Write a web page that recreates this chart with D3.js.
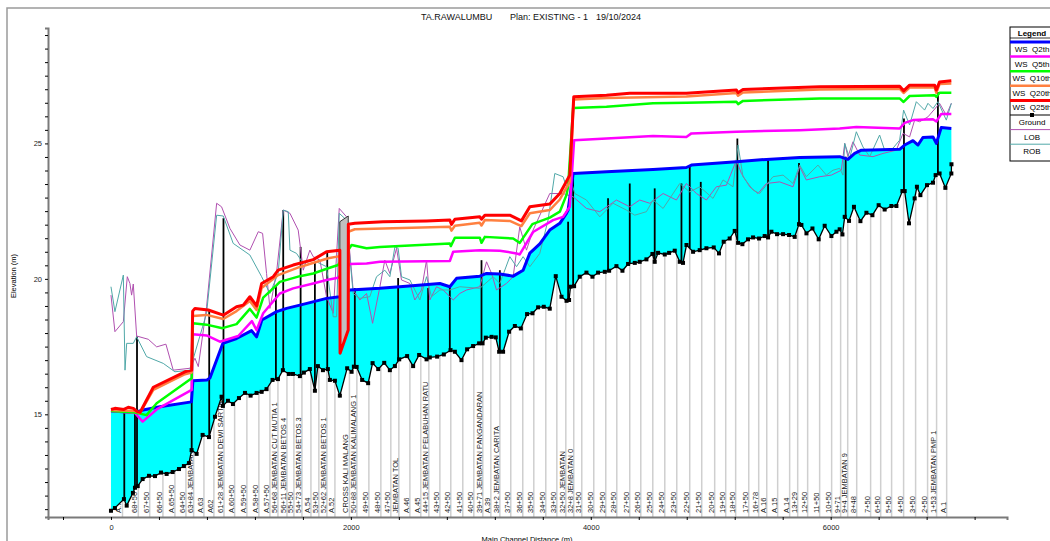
<!DOCTYPE html>
<html>
<head>
<meta charset="utf-8">
<script src="https://cdn.jsdelivr.net/npm/d3@7"></script>
<style>
  body { margin: 0; background: #fff; }
  svg { display: block; font-family: "Liberation Sans", Arial, sans-serif; }
</style>
</head>
<body>
<div id="chart"></div>
<script>
// ---- data (distance m, elevation m) ----
const stationDist = [96, 228, 323, 433, 533, 625, 689, 775, 858, 942, 1031, 1133, 1233, 1325, 1392, 1467, 1525, 1592, 1667, 1733, 1800, 1867, 1988, 2050, 2150, 2250, 2333, 2400, 2492, 2583, 2650, 2742, 2833, 2933, 3025, 3100, 3167, 3242, 3333, 3433, 3525, 3625, 3717, 3792, 3858, 3925, 4025, 4125, 4217, 4325, 4417, 4517, 4617, 4717, 4825, 4925, 5033, 5125, 5208, 5317, 5400, 5467, 5558, 5658, 5725, 5808, 5908, 6008, 6083, 6142, 6217, 6333, 6417, 6508, 6608, 6708, 6808, 6883, 6967];
const stationLabels = ["A.70", "68+50", "67+50", "66+50", "A.65+50", "64+50", "63+84 JEMBATAN", "A.63", "A62", "61+28 JEMBATAN DEWI SARTIKA", "A.60+50", "A.59+50", "A.58+50", "A.57+50", "56+68 JEMBATAN CUT MUTIA 1", "56+11 JEMBATAN BETOS 4", "55+50", "54+73 JEMBATAN BETOS 3", "A.54", "53+50", "52+62 JEMBATAN BETOS 1", "A.52", "CROSS KALI MALANG", "50+88 JEMBATAN KALIMALANG 1", "49+50", "48+50", "47+50", "JEMBATAN TOL", "A.46", "A.45", "44+15 JEMBATAN PELABUHAN RATU", "43+50", "42+50", "41+50", "40+50", "39+71 JEMBATAN PANGANDARAN", "A.39", "38+2 JEMBATAN CARITA", "37+50", "36+50", "35+50", "34+50", "33+50", "32+50 JEMBATAN", "32+8 JEMBATAN 0", "31+50", "30+50", "29+50", "28+50", "27+50", "26+50", "25+50", "24+50", "23+50", "22+50", "21+50", "20+50", "19+50", "18+50", "17+50", "16+78", "A.16", "A.15", "A.14", "13+29", "12+50", "11+50", "10+50", "9+71", "9+4 JEMBATAN 9", "8+48", "7+50", "6+50", "5+50", "4+50", "3+50", "2+50", "1+53 JEMBATAN PMP 1", "A.1"];

const ground = [[0, 11.44], [33, 11.54], [108, 11.87], [131, 11.63], [183, 12.10], [200, 12.29], [223, 12.35], [264, 12.61], [317, 12.73], [367, 12.72], [417, 12.85], [464, 12.80], [514, 12.87], [567, 12.98], [608, 13.09], [650, 13.20], [672, 13.68], [714, 13.54], [764, 14.24], [817, 14.16], [867, 14.91], [922, 15.65], [933, 15.31], [975, 15.50], [1017, 15.38], [1067, 15.60], [1117, 15.79], [1164, 15.69], [1214, 15.79], [1256, 15.83], [1297, 15.93], [1347, 16.27], [1392, 16.30], [1433, 16.63], [1483, 16.49], [1517, 16.49], [1575, 16.41], [1608, 16.54], [1658, 16.67], [1700, 15.87], [1725, 16.78], [1767, 16.63], [1808, 16.67], [1825, 16.27], [1867, 16.24], [1908, 15.69], [1969, 16.70], [2006, 16.57], [2025, 16.76], [2048, 16.75], [2094, 16.27], [2144, 16.15], [2181, 16.89], [2228, 16.67], [2278, 16.90], [2325, 16.63], [2367, 16.78], [2403, 17.03], [2469, 17.15], [2519, 16.78], [2569, 17.19], [2631, 17.03], [2658, 17.10], [2719, 17.13], [2775, 17.21], [2831, 17.37], [2867, 17.31], [2922, 17.00], [2969, 17.40], [3019, 17.52], [3069, 17.62], [3098, 17.62], [3125, 17.83], [3173, 17.86], [3208, 17.84], [3236, 17.31], [3269, 17.31], [3319, 18.05], [3367, 18.26], [3417, 18.17], [3469, 18.70], [3514, 18.73], [3561, 18.95], [3608, 18.97], [3658, 18.90], [3708, 20.10], [3756, 19.34], [3798, 19.19], [3819, 19.22], [3831, 19.71], [3861, 19.73], [3908, 20.08], [3964, 20.23], [4014, 20.08], [4061, 20.23], [4117, 20.26], [4153, 20.30], [4214, 20.47], [4264, 20.30], [4311, 20.55], [4367, 20.59], [4408, 20.63], [4464, 20.72], [4514, 20.92], [4533, 20.63], [4561, 20.96], [4617, 20.90], [4653, 20.96], [4700, 21.04], [4742, 20.63], [4769, 20.59], [4798, 21.25], [4853, 21.00], [4908, 21.06], [4964, 21.13], [5025, 21.16], [5069, 20.94], [5108, 21.37], [5158, 21.49], [5200, 21.77], [5228, 21.33], [5264, 21.28], [5311, 21.46], [5353, 21.53], [5403, 21.49], [5450, 21.58], [5478, 21.53], [5506, 21.74], [5553, 21.65], [5603, 21.65], [5653, 21.62], [5700, 21.55], [5736, 22.02], [5756, 21.99], [5798, 21.68], [5848, 21.86], [5900, 21.46], [5950, 21.96], [6006, 21.58], [6048, 21.74], [6075, 21.83], [6098, 21.64], [6117, 22.29], [6153, 22.14], [6194, 22.66], [6248, 22.13], [6298, 22.44], [6348, 22.35], [6400, 22.72], [6450, 22.56], [6506, 22.69], [6548, 22.69], [6598, 23.24], [6617, 23.24], [6653, 22.05], [6700, 22.97], [6719, 23.40], [6748, 23.09], [6803, 23.46], [6853, 23.55], [6875, 23.83], [6908, 23.89], [6956, 23.36], [7006, 23.89], [7007, 24.23]];

const wsQ2 = [[0, 15.12], [200, 15.07], [267, 15.16], [408, 15.28], [671, 15.46], [683, 16.24], [800, 16.27], [825, 16.34], [933, 17.62], [1047, 17.80], [1172, 18.09], [1214, 17.86], [1258, 18.48], [1381, 18.79], [1464, 18.91], [1575, 19.03], [1683, 19.15], [1797, 19.28], [1908, 19.34], [1992, 19.59], [2242, 19.65], [2408, 19.71], [2742, 19.83], [2825, 19.71], [2881, 20.02], [3075, 20.10], [3131, 20.20], [3242, 20.18], [3353, 20.10], [3436, 20.32], [3492, 20.95], [3575, 21.29], [3658, 21.80], [3742, 22.05], [3797, 22.42], [3811, 22.54], [3853, 23.89], [4131, 23.95], [4519, 24.04], [4797, 24.11], [4839, 24.20], [5214, 24.32], [5464, 24.41], [5742, 24.48], [6075, 24.51], [6144, 24.41], [6200, 24.63], [6256, 24.75], [6575, 24.78], [6617, 24.94], [6686, 25.10], [6728, 24.94], [6769, 25.22], [6853, 25.24], [6881, 25.00], [6922, 25.59], [7006, 25.55]];

const wsQ5 = [[0, 15.12], [200, 15.05], [264, 14.73], [381, 15.18], [673, 15.90], [683, 17.96], [797, 17.91], [908, 17.68], [1061, 17.89], [1175, 18.44], [1214, 18.11], [1269, 18.73], [1408, 19.46], [1519, 19.65], [1686, 19.83], [1797, 19.96], [1894, 20.04], [1992, 20.55], [2131, 20.57], [2242, 20.63], [2825, 20.66], [2853, 21.00], [3075, 21.06], [3242, 21.04], [3381, 20.94], [3408, 20.90], [3519, 21.73], [3686, 22.17], [3769, 22.29], [3825, 22.66], [3861, 25.12], [4131, 25.18], [4519, 25.27], [4797, 25.24], [4839, 25.37], [5214, 25.43], [5742, 25.49], [6075, 25.55], [6214, 25.61], [6575, 25.55], [6617, 25.76], [6686, 25.86], [6853, 25.89], [6881, 25.81], [6922, 26.09], [7006, 26.09]];

const wsQ10 = [[0, 15.12], [200, 15.07], [297, 14.97], [381, 15.41], [673, 16.33], [683, 18.36], [797, 18.31], [929, 18.18], [1047, 18.33], [1158, 18.89], [1214, 18.57], [1269, 19.31], [1381, 19.77], [1408, 19.89], [1575, 20.10], [1686, 20.20], [1811, 20.39], [1894, 20.51], [2006, 21.25], [2131, 21.13], [2242, 21.18], [2825, 21.31], [2833, 21.21], [2867, 21.52], [3075, 21.52], [3089, 21.33], [3117, 21.55], [3353, 21.49], [3408, 21.33], [3513, 22.02], [3658, 22.26], [3742, 22.48], [3797, 23.09], [3811, 23.40], [3853, 26.31], [4131, 26.35], [4519, 26.48], [4797, 26.50], [5214, 26.54], [5228, 26.45], [5269, 26.57], [5908, 26.66], [6575, 26.66], [6608, 26.53], [6658, 26.75], [6867, 26.78], [6881, 26.72], [6908, 26.87], [7006, 26.87]];

const wsQ20 = [[0, 15.16], [200, 15.12], [242, 15.05], [353, 15.90], [617, 16.48], [673, 16.54], [681, 18.63], [797, 18.67], [936, 18.52], [1047, 18.81], [1158, 19.18], [1214, 18.85], [1256, 19.66], [1394, 20.14], [1575, 20.44], [1811, 20.76], [1908, 20.84], [1917, 17.74], [1978, 18.48], [1979, 21.74], [2033, 21.83], [2825, 21.92], [2839, 21.78], [2867, 21.96], [3075, 22.07], [3089, 21.97], [3117, 22.17], [3325, 22.14], [3422, 21.95], [3492, 22.42], [3658, 22.54], [3742, 22.93], [3825, 23.58], [3858, 26.62], [4131, 26.68], [4797, 26.73], [5214, 26.86], [5228, 26.76], [5269, 26.88], [5908, 26.99], [6575, 27.02], [6608, 26.86], [6658, 27.06], [6867, 27.06], [6881, 26.87], [6908, 27.19], [7006, 27.21]];

const wsQ25 = [[0, 15.18], [33, 15.22], [108, 15.18], [144, 15.26], [186, 15.22], [219, 15.10], [242, 15.07], [353, 16.00], [617, 16.57], [673, 16.63], [681, 18.81], [700, 18.91], [811, 18.85], [936, 18.66], [1047, 18.97], [1103, 19.03], [1158, 19.34], [1214, 19.00], [1256, 19.83], [1353, 20.08], [1394, 20.32], [1519, 20.51], [1686, 20.71], [1797, 21.00], [1908, 21.06], [1910, 17.25], [1978, 18.11], [1979, 22.02], [2033, 22.05], [2269, 22.11], [2631, 22.14], [2825, 22.17], [2839, 22.01], [2867, 22.20], [3075, 22.29], [3089, 22.20], [3117, 22.35], [3325, 22.35], [3422, 22.14], [3492, 22.66], [3658, 22.76], [3742, 23.15], [3825, 23.83], [3858, 26.72], [4131, 26.78], [4325, 26.85], [4797, 26.85], [5214, 26.97], [5228, 26.87], [5269, 26.99], [5908, 27.09], [6575, 27.11], [6608, 26.94], [6658, 27.15], [6867, 27.15], [6881, 26.97], [6908, 27.27], [7006, 27.31]];

const lob = [[0, 19.40], [33, 18.05], [103, 18.42], [136, 20.08], [158, 19.83], [172, 19.40], [186, 19.81], [214, 17.89], [311, 17.77], [381, 17.49], [458, 17.59], [519, 16.63], [658, 16.70], [700, 17.07], [728, 16.76], [797, 18.97], [881, 22.79], [922, 22.66], [992, 21.86], [1075, 21.25], [1158, 21.06], [1228, 21.74], [1264, 21.68], [1297, 20.20], [1325, 18.91], [1381, 20.26], [1436, 22.54], [1492, 22.42], [1561, 21.80], [1603, 20.32], [1658, 21.06], [1686, 20.82], [1742, 20.69], [1797, 19.34], [1853, 18.73], [1903, 22.60], [1964, 22.29], [2019, 19.59], [2075, 19.22], [2131, 19.46], [2181, 18.36], [2242, 19.71], [2283, 20.69], [2325, 20.20], [2381, 21.13], [2422, 19.96], [2492, 19.83], [2533, 19.22], [2589, 19.59], [2631, 20.69], [2658, 19.22], [2714, 19.71], [2769, 19.59], [2853, 19.22], [2908, 19.46], [2964, 19.59], [3075, 19.71], [3131, 20.63], [3173, 20.20], [3214, 19.59], [3297, 19.83], [3353, 20.08], [3408, 21.92], [3464, 21.06], [3519, 21.80], [3658, 23.15], [3769, 23.15], [3853, 23.03], [3964, 22.60], [4075, 22.48], [4214, 22.91], [4325, 22.66], [4408, 22.91], [4492, 22.79], [4603, 23.15], [4714, 22.91], [4797, 23.52], [4881, 23.15], [4964, 22.91], [5047, 23.40], [5131, 23.46], [5214, 24.38], [5256, 23.89], [5325, 23.40], [5394, 23.15], [5464, 23.52], [5575, 23.58], [5686, 23.40], [5742, 24.14], [5797, 23.65], [5908, 23.77], [6006, 23.83], [6089, 24.01], [6117, 25.00], [6144, 24.51], [6186, 25.06], [6242, 24.57], [6353, 24.51], [6436, 24.63], [6547, 24.75], [6603, 25.37], [6658, 25.24], [6700, 25.86], [6742, 25.80], [6811, 25.98], [6908, 26.48], [6964, 26.04], [7006, 26.48]];

const rob = [[0, 19.71], [33, 18.79], [103, 20.14], [117, 16.63], [131, 17.62], [186, 17.62], [214, 17.86], [297, 17.13], [436, 16.88], [533, 16.57], [658, 16.63], [797, 18.73], [881, 22.35], [936, 22.32], [1019, 21.31], [1158, 20.88], [1256, 20.08], [1325, 19.46], [1394, 20.20], [1436, 22.54], [1478, 22.48], [1492, 21.06], [1547, 20.94], [1603, 20.57], [1686, 20.69], [1797, 20.45], [1853, 18.60], [1881, 18.60], [1903, 22.42], [1964, 22.17], [2019, 19.46], [2075, 19.28], [2158, 19.34], [2214, 20.08], [2283, 20.32], [2325, 20.08], [2367, 21.18], [2394, 21.13], [2422, 20.08], [2492, 19.96], [2575, 19.22], [2631, 20.08], [2672, 19.34], [2742, 19.59], [2825, 19.59], [2908, 19.71], [3075, 19.65], [3186, 20.08], [3242, 19.83], [3325, 20.82], [3381, 20.45], [3436, 20.82], [3492, 20.45], [3575, 20.94], [3644, 22.17], [3700, 23.89], [3769, 23.77], [3797, 23.40], [3825, 23.77], [3867, 23.15], [3964, 22.91], [4075, 22.29], [4186, 22.79], [4297, 22.54], [4367, 22.35], [4464, 22.48], [4519, 22.91], [4603, 22.60], [4742, 23.52], [4825, 23.21], [4908, 23.40], [5019, 22.97], [5103, 23.65], [5186, 23.40], [5228, 24.94], [5269, 23.77], [5353, 23.28], [5408, 23.15], [5519, 23.77], [5603, 23.83], [5686, 23.52], [5742, 24.20], [5797, 23.77], [5894, 24.20], [5964, 23.83], [6019, 24.01], [6075, 24.08], [6103, 23.83], [6117, 25.00], [6158, 24.45], [6214, 25.43], [6269, 24.87], [6325, 24.51], [6408, 25.31], [6450, 24.75], [6519, 24.82], [6575, 25.12], [6608, 26.23], [6658, 25.68], [6714, 26.54], [6783, 26.23], [6811, 26.48], [6853, 26.29], [6894, 26.54], [6964, 25.86], [7006, 26.48]];

// bridge decks drawn as black verticals: [distance, top elevation]
const bridgeTops = [[111, 15.12], [200, 15.12], [217, 17.87], [673, 16.64], [819, 18.81], [938, 22.24], [1375, 19.77], [1436, 22.54], [1581, 21.18], [1700, 20.62], [1803, 20.99], [2033, 19.66], [2394, 20.03], [2644, 19.66], [2825, 19.70], [3089, 20.69], [3242, 20.32], [3811, 22.11], [3853, 23.90], [4144, 22.98], [4325, 23.52], [4533, 23.34], [4756, 23.52], [4825, 24.20], [4917, 23.58], [5222, 25.18], [5478, 24.38], [5736, 24.28], [6125, 24.51], [6611, 25.92], [6894, 26.90]];

// inline structure at CROSS KALI MALANG
const weir = [[1908, 22.11], [1978, 22.32], [1978, 18.11], [1908, 17.25]];

const xTickValues = d3.range(-400, 7401, 400);
const xTickLabels = [0, 2000, 4000, 6000];
const yTickValues = d3.range(11.5, 29.01, 0.5);
const yTickLabels = [15, 20, 25];

const legendItems = [
  { name: "WS  Q2th", color: "#0000ff", w: 3 },
  { name: "WS  Q5th", color: "#ff00ff", w: 2.5 },
  { name: "WS  Q10th", color: "#00ff00", w: 2.5 },
  { name: "WS  Q20th", color: "#ff8040", w: 2.5 },
  { name: "WS  Q25th", color: "#ff0000", w: 3 },
  { name: "Ground", color: "#000000", w: 1.2, marker: true },
  { name: "LOB", color: "#b050b0", w: 1 },
  { name: "ROB", color: "#50a8a8", w: 1 }
];

// ---- chart ----
const width = 1050, height = 541;

const x = d3.scaleLinear().domain([-525, 7470]).range([48, 1007]);
const y = d3.scaleLinear().domain([11.21, 29.26]).range([517, 28]);

const svg = d3.select("#chart").append("svg")
    .attr("width", width)
    .attr("height", height);

// outer frame
svg.append("rect")
    .attr("x", 7).attr("y", 8)
    .attr("width", 1100).attr("height", 600)
    .attr("fill", "none")
    .attr("stroke", "#9a9a9a")
    .attr("stroke-width", 1.5);

// title
const title = svg.append("g").style("font-size", "9px").attr("fill", "#111");
title.append("text").attr("x", 421).attr("y", 20).text("TA.RAWALUMBU");
title.append("text").attr("x", 510).attr("y", 20).text("Plan: EXISTING - 1");
title.append("text").attr("x", 596).attr("y", 20).text("19/10/2024");

const groundAt = d => {
  const i = d3.bisector(p => p[0]).left(ground, d);
  if (i <= 0) return ground[0][1];
  if (i >= ground.length) return ground[ground.length - 1][1];
  const a = ground[i - 1], b = ground[i];
  return a[1] + (b[1] - a[1]) * (d - a[0]) / (b[0] - a[0]);
};

// station lines from axis up to ground
svg.append("g")
  .selectAll("line")
  .data(stationDist)
  .join("line")
    .attr("x1", d => x(d)).attr("x2", d => x(d))
    .attr("y1", y(11.21)).attr("y2", d => y(groundAt(d)))
    .attr("stroke", "#cfcfcf")
    .attr("stroke-width", 1.5);

// station labels (vertical)
svg.append("g")
    .style("font-size", "7.5px")
    .attr("fill", "#222")
  .selectAll("text")
  .data(stationDist)
  .join("text")
    .attr("transform", d => `translate(${x(d) - 1},513) rotate(-90)`)
    .style("white-space", "pre")
    .text((d, i) => stationLabels[i]);

const line = d3.line().x(d => x(d[0])).y(d => y(d[1]));

// water fill between lowest WS and ground
const fillPts = wsQ2.concat(ground.slice().reverse());
svg.append("path")
    .attr("d", line(fillPts) + "Z")
    .attr("fill", "#00ffff")
    .attr("stroke", "none");

// bridge verticals
svg.append("g")
  .selectAll("line")
  .data(bridgeTops)
  .join("line")
    .attr("x1", d => x(d[0])).attr("x2", d => x(d[0]))
    .attr("y1", d => y(groundAt(d[0]))).attr("y2", d => y(d[1]))
    .attr("stroke", "#000")
    .attr("stroke-width", 1.8);

// LOB / ROB
svg.append("path").attr("d", line(lob)).attr("fill", "none").attr("stroke", "#b050b0").attr("stroke-width", 1);
svg.append("path").attr("d", line(rob)).attr("fill", "none").attr("stroke", "#50a8a8").attr("stroke-width", 1);

// ground
svg.append("path").attr("d", line(ground)).attr("fill", "none").attr("stroke", "#000").attr("stroke-width", 1.3);
svg.append("g")
  .selectAll("rect")
  .data(ground)
  .join("rect")
    .attr("x", d => x(d[0]) - 2).attr("y", d => y(d[1]) - 2)
    .attr("width", 4).attr("height", 4)
    .attr("fill", "#000");

// water surfaces
const wsSeries = [wsQ2, wsQ5, wsQ10, wsQ20, wsQ25];
wsSeries.forEach((s, i) => {
  if (i === 4) {
    svg.append("path")
        .attr("d", line(weir) + "Z")
        .attr("fill", "#c0c0c0")
        .attr("stroke", "#333")
        .attr("stroke-width", 1);
  }
  svg.append("path")
      .attr("d", line(s))
      .attr("fill", "none")
      .attr("stroke", legendItems[i].color)
      .attr("stroke-width", legendItems[i].w)
      .attr("stroke-linejoin", "round");
});

// axes
const axisColor = "#7a7a7a";
const xAxis = svg.append("g")
    .attr("transform", `translate(0,517)`)
    .call(d3.axisBottom(x).tickValues(xTickValues).tickSize(3).tickFormat(d => xTickLabels.includes(d) ? d : ""));
xAxis.select(".domain").attr("stroke", axisColor).attr("stroke-width", 2);
xAxis.selectAll(".tick line").attr("stroke", "#000");
xAxis.selectAll(".tick text").style("font-size", "7.5px").attr("dy", "0.9em").attr("fill", "#222");

const yAxis = svg.append("g")
    .attr("transform", `translate(48,0)`)
    .call(d3.axisLeft(y).tickValues(yTickValues).tickSize(3).tickFormat(d => yTickLabels.includes(d) ? d : ""));
yAxis.select(".domain").attr("stroke", axisColor).attr("stroke-width", 2);
yAxis.selectAll(".tick line").attr("stroke", "#000");
yAxis.selectAll(".tick text").style("font-size", "7.5px").attr("fill", "#222");

svg.append("text")
    .attr("x", 527).attr("y", 542)
    .attr("text-anchor", "middle")
    .style("font-size", "7.5px")
    .text("Main Channel Distance (m)");

svg.append("text")
    .attr("transform", "translate(16,276) rotate(-90)")
    .attr("text-anchor", "middle")
    .style("font-size", "7.5px")
    .text("Elevation (m)");

// legend
const legend = svg.append("g").attr("transform", "translate(1010,27)");
legend.append("rect")
    .attr("width", 70).attr("height", 134)
    .attr("fill", "#fff").attr("stroke", "#000").attr("stroke-width", 1);
legend.append("text")
    .attr("x", 22).attr("y", 8.5)
    .attr("text-anchor", "middle")
    .style("font-size", "8px").style("font-weight", "bold")
    .text("Legend");
legend.append("line").attr("x1", 0).attr("x2", 70).attr("y1", 11).attr("y2", 11).attr("stroke", "#000").attr("stroke-width", 0.8);

const row = legend.selectAll(".row")
  .data(legendItems)
  .join("g")
    .attr("class", "row")
    .attr("transform", (d, i) => `translate(0,${15 + i * 14.6})`);
row.append("line")
    .attr("x1", 0).attr("x2", 70)
    .attr("stroke", d => d.color)
    .attr("stroke-width", d => d.w);
row.filter(d => d.marker).append("rect")
    .attr("x", 20).attr("y", -2).attr("width", 4).attr("height", 4).attr("fill", "#000");
row.append("text")
    .attr("x", 22).attr("y", 10)
    .attr("text-anchor", "middle")
    .style("font-size", "8px")
    .style("white-space", "pre")
    .text(d => d.name);
</script>
</body>
</html>
